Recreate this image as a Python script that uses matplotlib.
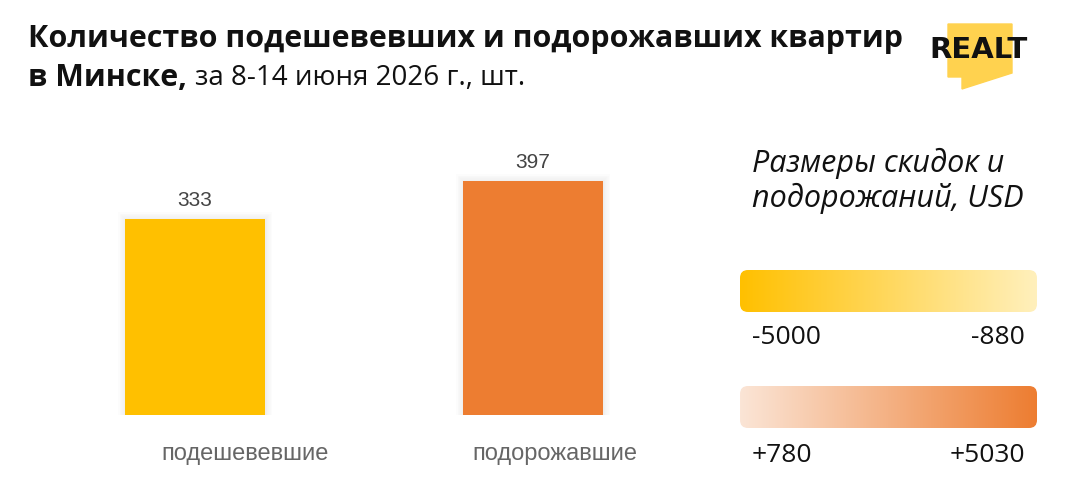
import numpy as np
import matplotlib
matplotlib.use('Agg')
import matplotlib.pyplot as plt
from matplotlib.patches import FancyBboxPatch, Polygon
from matplotlib.colors import LinearSegmentedColormap
import matplotlib.patheffects as pe

# data
categories = ['подешевевшие', 'подорожавшие']
counts = [333, 397]
bar_colors = ['#FFC000', '#ED7D31']
scale_title = 'Размеры скидок и\nподорожаний, USD'
down_range = ['-5000', '-880']
up_range = ['+780', '+5030']

W, H = 1078, 500
fig = plt.figure(figsize=(W / 100, H / 100), dpi=100)
FAM = ['Open Sans', 'DejaVu Sans']

# main bars
ax = fig.add_axes([26 / W, 0.17, 676 / W, 0.63])
glow = [pe.Stroke(linewidth=lw, foreground='#000000', alpha=0.01) for lw in (10, 8, 6, 4, 2)] + [pe.Normal()]
bars = ax.bar(range(len(counts)), counts, width=0.414, color=bar_colors)
for b in bars:
    b.set_path_effects(glow)
ax.set_xlim(-0.5, 1.5)
ax.set_ylim(0, 535)
ax.axis('off')
for i, v in enumerate(counts):
    ax.text(i, v + 16, str(v), ha='center', va='bottom', fontsize=15,
            color='#444444', family='Liberation Sans')
label_dx = [0.148, 0.065]
for i, c in enumerate(categories):
    ax.text(i + label_dx[i], -0.125, c, transform=ax.get_xaxis_transform(),
            ha='center', va='center', fontsize=17, color='#666666',
            family='Liberation Sans')

# overlay in pixel coords
ov = fig.add_axes([0, 0, 1, 1])
ov.set_xlim(0, W)
ov.set_ylim(H, 0)
ov.axis('off')
ov.patch.set_alpha(0)

ov.text(28, 39, 'Количество подешевевших и подорожавших квартир', fontsize=21.9,
        fontweight='bold', family=FAM, va='center', ha='left', color='#111111')
t = ov.text(28, 78, 'в Минске,', fontsize=21.9, fontweight='bold', family=FAM,
            va='center', ha='left', color='#111111')
fig.canvas.draw()
bb = t.get_window_extent().transformed(ov.transData.inverted())
ov.text(bb.x1 + 8, 78, 'за 8-14 июня 2026 г., шт.', fontsize=20, family=FAM,
        va='center', ha='left', color='#111111')

# logo
ov.add_patch(Polygon([[948, 24], [1012, 24], [1012, 73], [962, 89], [962, 77], [948, 77]],
                     closed=True, color='#FFD24F', zorder=1))
ov.text(978, 50, 'REALT', fontsize=21, fontweight='bold', family='DejaVu Sans',
        ha='center', va='center', color='#111111', zorder=2)

ov.text(752, 181, scale_title, fontsize=22, style='italic', family=FAM,
        ha='left', va='center', color='#111111', linespacing=1.18)

grad = np.linspace(0, 1, 256).reshape(1, -1)
cm_down = LinearSegmentedColormap.from_list('d', ['#FFC000', '#FFF0BC'])
cm_up = LinearSegmentedColormap.from_list('u', ['#FBE5D6', '#ED7D31'])
for (y0, y1), cm, labels, ly in [((270, 312), cm_down, down_range, 338),
                                 ((386, 428), cm_up, up_range, 456)]:
    im = ov.imshow(grad, cmap=cm, extent=(740, 1037, y1, y0), aspect='auto', zorder=1)
    clip = FancyBboxPatch((740, y0), 297, y1 - y0, boxstyle='round,pad=0,rounding_size=8',
                          transform=ov.transData, facecolor='none', edgecolor='none')
    ov.add_patch(clip)
    im.set_clip_path(clip)
    ov.text(752, ly, labels[0], fontsize=19, family=FAM, ha='left', va='center', color='#111111')
    ov.text(1025, ly, labels[1], fontsize=19, family=FAM, ha='right', va='center', color='#111111')
ov.set_xlim(0, W)
ov.set_ylim(H, 0)

fig.savefig('out.png', dpi=100)
